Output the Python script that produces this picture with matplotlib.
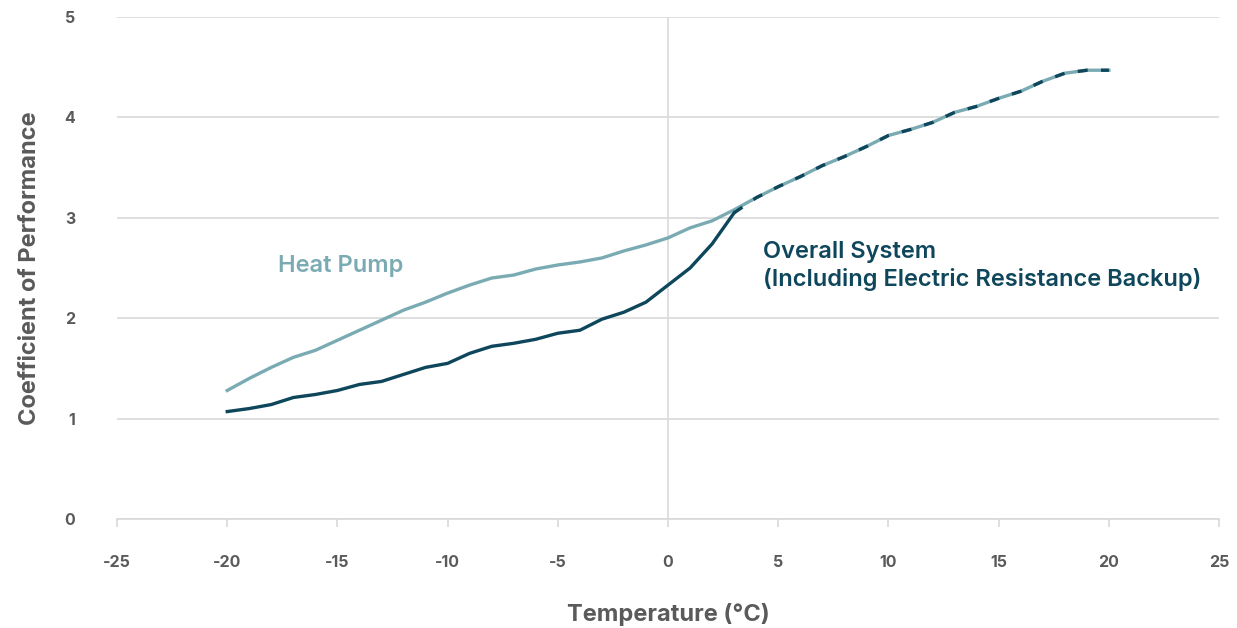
import matplotlib.pyplot as plt

temps = list(range(-20, 21))
heat_pump = [1.28, 1.40, 1.51, 1.61, 1.68, 1.78, 1.88, 1.98, 2.08, 2.16,
             2.25, 2.33, 2.40, 2.43, 2.49, 2.53, 2.56, 2.60, 2.67, 2.73,
             2.80, 2.90, 2.97, 3.08, 3.20, 3.31, 3.41, 3.52, 3.61, 3.71,
             3.82, 3.88, 3.95, 4.05, 4.11, 4.19, 4.26, 4.36, 4.44, 4.47, 4.47]
overall = [1.07, 1.10, 1.14, 1.21, 1.24, 1.28, 1.34, 1.37, 1.44, 1.51,
           1.55, 1.65, 1.72, 1.75, 1.79, 1.85, 1.88, 1.99, 2.06, 2.16,
           2.33, 2.50, 2.74, 3.05] + heat_pump[24:]

x_ticks = [-25, -20, -15, -10, -5, 0, 5, 10, 15, 20, 25]
y_ticks = [0, 1, 2, 3, 4, 5]

LIGHT = '#7aabb3'
DARK = '#0e465b'
GREY = '#5a5a5a'
GRID = '#d9d9d9'

plt.rcParams['font.family'] = ['Inter', 'DejaVu Sans']
plt.rcParams['axes.unicode_minus'] = False

fig = plt.figure(figsize=(12.37, 6.28), dpi=100)
ax = fig.add_axes([0.0946, 0.1736, 0.8909, 0.7993])

# overall system: solid where backup is in use, dashed where it matches the heat pump
split = temps.index(3)
ax.plot(temps, heat_pump, color=LIGHT, lw=2.4, zorder=3)
ax.plot(temps[:split + 1], overall[:split + 1], color=DARK, lw=2.4, zorder=4)
ax.plot(temps[split:], overall[split:], color=DARK, lw=2.4, zorder=4,
        dashes=(3, 4))

ax.set_xlim(-25, 25)
ax.set_ylim(0, 5)
ax.set_xticks(x_ticks)
ax.set_yticks(y_ticks)
ax.grid(axis='y', color=GRID, lw=1.2)
ax.axvline(0, color=GRID, lw=1.2, zorder=1)
ax.set_axisbelow(True)

for side in ('top', 'right', 'left'):
    ax.spines[side].set_visible(False)
ax.spines['bottom'].set_color(GRID)
ax.spines['bottom'].set_linewidth(1.2)

ax.tick_params(axis='x', colors=GRID, length=6, width=1.2, pad=20,
               labelcolor=GREY, labelsize=11.5)
ax.tick_params(axis='y', length=0, pad=30, labelcolor=GREY, labelsize=11.5)
for lab in ax.get_xticklabels() + ax.get_yticklabels():
    lab.set_fontweight('bold')

ax.set_xlabel('Temperature (°C)', fontsize=17, fontweight='bold', color=GREY,
              labelpad=24)
ax.set_ylabel('Coefficient of Performance', fontsize=17, fontweight='bold',
              color=GREY, labelpad=17)

ax.text(-17.7, 2.52, 'Heat Pump', color=LIGHT, fontsize=17,
        fontweight='semibold', va='center', ha='left')
ax.text(4.3, 2.52, 'Overall System\n(Including Electric Resistance Backup)',
        color=DARK, fontsize=17, fontweight='semibold', va='center', ha='left',
        linespacing=1.3)

fig.savefig('out.png', dpi=100)
